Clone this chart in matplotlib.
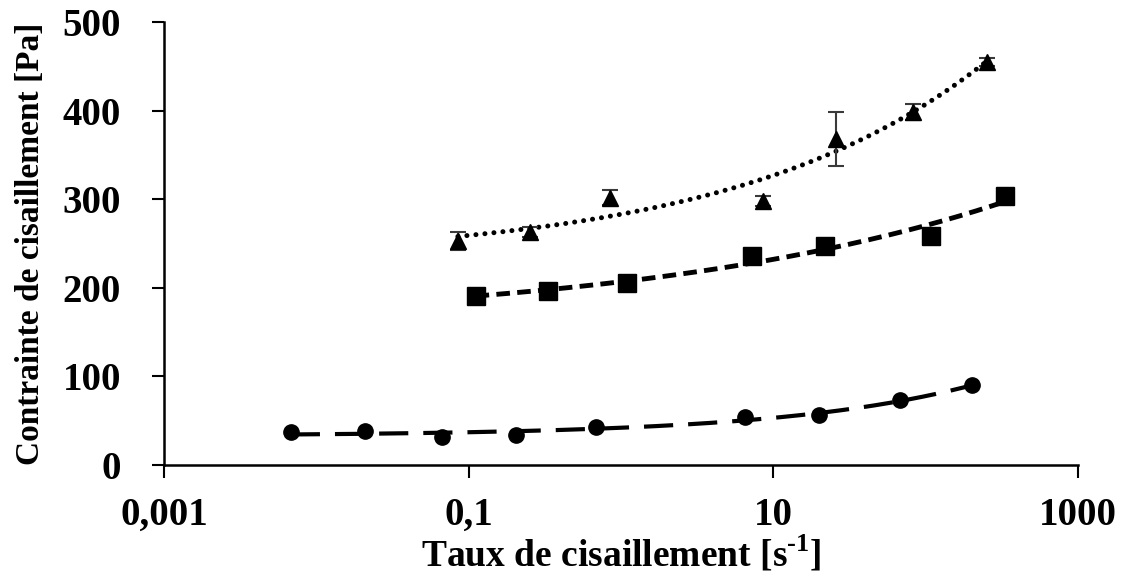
import numpy as np
import matplotlib
matplotlib.use("Agg")
import matplotlib.pyplot as plt
from matplotlib.ticker import FixedLocator, NullLocator

plt.rcParams['font.family'] = ['Liberation Serif', 'DejaVu Serif']
plt.rcParams['mathtext.fontset'] = 'custom'
plt.rcParams['mathtext.rm'] = 'Liberation Serif:bold'
plt.rcParams['mathtext.bf'] = 'Liberation Serif:bold'

# Shear rate [1/s] and shear stress [Pa] for the three samples
rate_circle = [0.0068, 0.021, 0.067, 0.206, 0.69, 6.5, 20, 68, 203]
stress_circle = [37, 38, 32, 34, 43, 54, 56, 73, 90]

rate_square = [0.111, 0.33, 1.1, 7.2, 21.8, 109, 330]
stress_square = [191, 196, 205, 236, 247, 258, 304]

rate_triangle = [0.085, 0.254, 0.85, 8.5, 25.7, 82, 251]
stress_triangle = [253, 263, 302, 298, 368, 398, 455]
err_triangle = [10, 6, 9, 6, 30, 9, 5]

x_ticks = [0.001, 0.1, 10, 1000]
x_tick_labels = ["0,001", "0,1", "10", "1000"]
y_ticks = [0, 100, 200, 300, 400, 500]


def herschel_bulkley_fit(x, y):
    """Least-squares fit of tau = tau0 + K * rate**n (grid search over n)."""
    x = np.asarray(x, float)
    y = np.asarray(y, float)
    best = None
    for n in np.linspace(0.05, 1.5, 600):
        A = np.column_stack([np.ones_like(x), x ** n])
        coef, *_ = np.linalg.lstsq(A, y, rcond=None)
        res = np.sum((A @ coef - y) ** 2)
        if best is None or res < best[0]:
            best = (res, coef[0], coef[1], n)
    _, t0, k, n = best
    xs = np.logspace(np.log10(x.min()), np.log10(x.max()), 300)
    return xs, t0 + k * xs ** n


fig = plt.figure(figsize=(11.27, 5.82), dpi=100)
ax = fig.add_axes([0.1455, 0.201, 0.811, 0.761])

# trend lines
xs, ys = herschel_bulkley_fit(rate_circle, stress_circle)
ax.plot(xs, ys, color='black', lw=3.0, dashes=(7, 3.6), zorder=2)
xs, ys = herschel_bulkley_fit(rate_square, stress_square)
ax.plot(xs, ys, color='black', lw=3.5, dashes=(2.8, 1.5), zorder=2)
xs, ys = herschel_bulkley_fit(rate_triangle, stress_triangle)
ax.plot(xs, ys, color='black', lw=3.6, dashes=(0.01, 1.8),
        dash_capstyle='round', zorder=2)

# measured points
ax.plot(rate_circle, stress_circle, 'o', color='black', ms=11, zorder=3)
ax.plot(rate_square, stress_square, 's', color='black', ms=13, zorder=3)
ax.errorbar(rate_triangle, stress_triangle, yerr=err_triangle, fmt='^',
            color='black', ms=12, ecolor='#3a3a3a', elinewidth=1.5,
            capsize=6, capthick=1.5, zorder=3)

ax.set_xscale('log')
ax.set_xlim(0.001, 1000)
ax.set_ylim(0, 500)
ax.xaxis.set_major_locator(FixedLocator(x_ticks))
ax.xaxis.set_minor_locator(NullLocator())
ax.set_xticklabels(x_tick_labels)
ax.set_yticks(y_ticks)

for s in ['top', 'right']:
    ax.spines[s].set_visible(False)
for s in ['left', 'bottom']:
    ax.spines[s].set_linewidth(1.8)
    ax.spines[s].set_color('black')

ax.tick_params(axis='both', direction='out', length=9, width=1.5,
               labelsize=28, colors='black')
ax.tick_params(axis='x', pad=14)
ax.tick_params(axis='y', pad=22)
for lab in ax.get_xticklabels() + ax.get_yticklabels():
    lab.set_fontweight('bold')

ax.set_xlabel("Taux de cisaillement [s$^{\\text{-}1}$]", fontsize=27,
              fontweight='bold', labelpad=0)
ax.set_ylabel("Contrainte de cisaillement [Pa]", fontsize=24,
              fontweight='bold', labelpad=12)

fig.savefig("out.png", dpi=100, facecolor='white')
